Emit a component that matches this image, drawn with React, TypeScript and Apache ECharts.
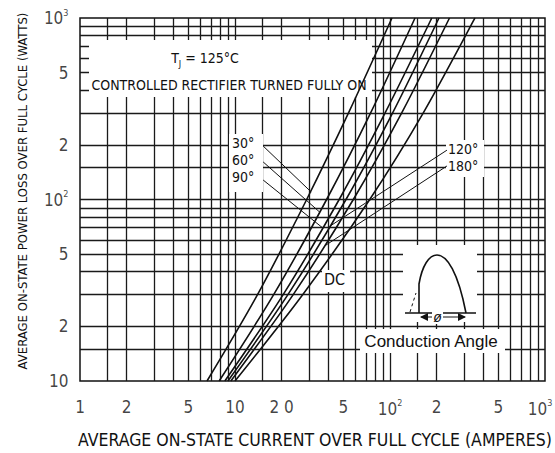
import React, { useEffect, useRef } from "react";
import * as echarts from "echarts";

// ---------------- data ----------------
const xGridValues = [1.5, 2, 3, 4, 5, 6, 7, 8, 9, 10, 15, 20, 30, 40, 50, 60, 70, 80, 90, 100, 150, 200, 300, 400, 500, 600, 700, 800, 900];
const yGridValues = [15, 20, 30, 40, 50, 60, 70, 80, 90, 100, 150, 200, 300, 400, 500, 600, 700, 800, 900];

const xTickValues = [1, 2, 5, 10, 20, 50, 100, 200, 500, 1000];
const xTickLabels = ["1", "2", "5", "10", "2 0", "5", "{n|10}{s|2}", "2", "5", "{n|10}{s|3}"];
const yTickValues = [1000, 500, 200, 100, 50, 20, 10];
const yTickLabels = ["{n|10}{s|3}", "5", "2", "{n|10}{s|2}", "5", "2", "10"];

// [average current (A), average power loss (W)]
const curve30 = [[6.6, 10], [14, 30], [29, 100], [54, 300], [103, 1000]];
const curve60 = [[7.9, 10], [17.8, 30], [39, 100], [75, 300], [145, 1000]];
const curve90 = [[8.6, 10], [20.5, 30], [47, 100], [93, 300], [186, 1000]];
const curve120 = [[9.0, 10], [22, 30], [52, 100], [104, 300], [207, 1000]];
const curve180 = [[9.4, 10], [23.8, 30], [58, 100], [119, 300], [242, 1000]];
const curveDC = [[10, 10], [27.4, 30], [74, 100], [164, 300], [353, 1000]];

const leader30 = [[15.2, 197], [31, 110]];
const leader60 = [[15.2, 161], [35.3, 85]];
const leader90 = [[15.2, 128], [36.6, 70]];
const leader120 = [[233, 187], [41.7, 72]];
const leader180 = [[233, 153], [38.5, 56]];

// ---------------- styles ----------------
const NARROW = "'Liberation Sans Narrow','DejaVu Sans Condensed','Liberation Sans',Arial,sans-serif";
const SANS = "'Liberation Sans',Arial,sans-serif";
const INK = "#111";

const WAVE_D = "M419,313 L419,284 C422,266 429,255 437,255 C447,255 458,272 466,313";

let registered = false;
function registerShapes() {
  if (registered) return;
  registered = true;
  echarts.graphic.registerShape("halfwave", echarts.graphic.extendPath(WAVE_D, {}) as any);
}

function curveSeries(name: string, data: number[][]) {
  return {
    name,
    type: "line",
    data,
    symbol: "none",
    smooth: 0.3,
    z: 4,
    silent: true,
    lineStyle: { color: INK, width: 1.6 },
  };
}

function leaderSeries(name: string, data: number[][]) {
  return {
    name,
    type: "line",
    data,
    symbol: "none",
    z: 4,
    silent: true,
    clip: false,
    lineStyle: { color: INK, width: 1 },
  };
}

const rich = {
  n: { fontSize: 17, fontFamily: NARROW, color: INK, lineHeight: 20 },
  s: { fontSize: 9, fontFamily: NARROW, color: INK, verticalAlign: "top" as const, lineHeight: 20 },
};

function whiteRect(x: number, y: number, w: number, h: number) {
  return { type: "rect", z: 3, silent: true, shape: { x, y, width: w, height: h }, style: { fill: "#fff" } };
}

function txt(x: number, y: number, text: string, fontSize: number, align = "left", font = NARROW, extra: any = {}) {
  return {
    type: "text",
    z: 7,
    silent: true,
    x,
    y,
    style: { text, fill: INK, fontSize, fontFamily: font, align, verticalAlign: "middle", ...extra },
  };
}

export default function App() {
  const ref = useRef<HTMLDivElement>(null);

  useEffect(() => {
    if (!ref.current) return;
    registerShapes();
    const chart = echarts.init(ref.current, undefined, { renderer: "svg" });

    const option: any = {
      animation: false,
      backgroundColor: "#fff",
      grid: { left: 80, top: 18, right: 10, bottom: 72, show: true, borderColor: INK, borderWidth: 1.5, backgroundColor: "transparent" },
      xAxis: {
        type: "log",
        logBase: 10,
        min: 1,
        max: 1000,
        axisLine: { show: false },
        axisTick: { show: false },
        axisLabel: { show: false },
        splitLine: { show: false },
      },
      yAxis: {
        type: "log",
        logBase: 10,
        min: 10,
        max: 1000,
        axisLine: { show: false },
        axisTick: { show: false },
        axisLabel: { show: false },
        splitLine: { show: false },
      },
      series: [
        {
          name: "grid",
          type: "line",
          data: [],
          silent: true,
          z: 1,
          markLine: {
            silent: true,
            z: 1,
            symbol: ["none", "none"],
            label: { show: false },
            emphasis: { disabled: true },
            lineStyle: { color: "#1a1a1a", width: 1.3, type: "solid" },
            data: [
              ...xGridValues.map((v) => ({ xAxis: v })),
              ...yGridValues.map((v) => ({ yAxis: v })),
            ],
          },
        },
        curveSeries("30°", curve30),
        curveSeries("60°", curve60),
        curveSeries("90°", curve90),
        curveSeries("120°", curve120),
        curveSeries("180°", curve180),
        curveSeries("DC", curveDC),
        leaderSeries("l30", leader30),
        leaderSeries("l60", leader60),
        leaderSeries("l90", leader90),
        leaderSeries("l120", leader120),
        leaderSeries("l180", leader180),
        {
          name: "xticks",
          type: "scatter",
          z: 6,
          silent: true,
          clip: false,
          symbolSize: 1,
          itemStyle: { color: "rgba(0,0,0,0)" },
          data: xTickValues.map((v, i) => ({
            name: xTickLabels[i],
            value: [v, 10],
            label: i === xTickValues.length - 1 ? { offset: [-5, 0] } : undefined,
          })),
          label: { show: true, position: "bottom", distance: 17, formatter: "{b}", color: INK, fontSize: 17, fontFamily: NARROW, rich },
        },
        {
          name: "yticks",
          type: "scatter",
          z: 6,
          silent: true,
          clip: false,
          symbolSize: 1,
          itemStyle: { color: "rgba(0,0,0,0)" },
          data: yTickValues.map((v, i) => ({ name: yTickLabels[i], value: [1, v] })),
          label: { show: true, position: "left", distance: 11, formatter: "{b}", color: INK, fontSize: 17, fontFamily: NARROW, rich },
        },
      ],
      graphic: {
        elements: [
          whiteRect(89, 40, 283, 57),
          whiteRect(229, 134, 34, 58),
          whiteRect(446, 140, 38, 37),
          whiteRect(322, 270, 28, 22),
          whiteRect(403, 245, 74, 77),
          whiteRect(360, 329, 145, 24),
          // axis titles
          {
            type: "text",
            z: 7,
            silent: true,
            x: 22,
            y: 191,
            rotation: Math.PI / 2,
            style: {
              text: "AVERAGE ON-STATE POWER LOSS OVER FULL CYCLE (WATTS)",
              fill: INK,
              fontSize: 13,
              fontFamily: NARROW,
              align: "center",
              verticalAlign: "middle",
            },
          },
          txt(315, 440, "AVERAGE ON-STATE CURRENT OVER FULL CYCLE (AMPERES)", 17.5, "center"),
          // annotation box texts
          {
            type: "text",
            z: 7,
            silent: true,
            x: 205,
            y: 58,
            style: {
              text: "{t|T}{j|J}{t| = 125°C}",
              align: "center",
              verticalAlign: "middle",
              rich: {
                t: { fontSize: 14, fontFamily: NARROW, fill: INK, lineHeight: 20 },
                j: { fontSize: 9, fontFamily: NARROW, fill: INK, verticalAlign: "bottom", lineHeight: 20 },
              },
            },
          },
          txt(229, 85, "CONTROLLED RECTIFIER TURNED FULLY ON", 14, "center"),
          txt(232, 143, "30°", 14, "left", NARROW, { lineHeight: 15 }),
          txt(232, 160, "60°", 14, "left", NARROW, { lineHeight: 15 }),
          txt(232, 177, "90°", 14, "left", NARROW, { lineHeight: 15 }),
          txt(448, 149, "120°", 14, "left", NARROW, { lineHeight: 15 }),
          txt(448, 166, "180°", 14, "left", NARROW, { lineHeight: 15 }),
          txt(324, 279, "DC", 16),
          txt(431, 341, "Conduction Angle", 17, "center", SANS),
          // conduction angle sketch
          { type: "halfwave", z: 7, silent: true, x: 0, y: 0, style: { stroke: INK, fill: "none", lineWidth: 1.6 } },
          { type: "line", z: 7, silent: true, shape: { x1: 405, y1: 313, x2: 476, y2: 313 }, style: { stroke: INK, lineWidth: 1.3 } },
          { type: "line", z: 7, silent: true, shape: { x1: 410, y1: 312, x2: 416, y2: 293 }, style: { stroke: INK, lineWidth: 1, lineDash: [3, 3] } },
          { type: "line", z: 7, silent: true, shape: { x1: 421, y1: 317, x2: 465, y2: 317 }, style: { stroke: INK, lineWidth: 1.2 } },
          { type: "polygon", z: 7, silent: true, shape: { points: [[420, 317], [428, 313], [428, 321]] }, style: { fill: INK } },
          { type: "polygon", z: 7, silent: true, shape: { points: [[466, 317], [458, 313], [458, 321]] }, style: { fill: INK } },
          { type: "rect", z: 7, silent: true, shape: { x: 432, y: 311, width: 11, height: 13 }, style: { fill: "#fff" } },
          { type: "text", z: 8, silent: true, x: 437.5, y: 317, style: { text: "ø", fill: INK, fontSize: 14, fontFamily: SANS, align: "center", verticalAlign: "middle", fontStyle: "italic" } },
        ],
      },
    };

    chart.setOption(option);
    return () => chart.dispose();
  }, []);

  return (
    <div
      ref={ref}
      style={{ position: "fixed", left: 0, top: 0, width: 555, height: 453, background: "#fff" }}
    />
  );
}
